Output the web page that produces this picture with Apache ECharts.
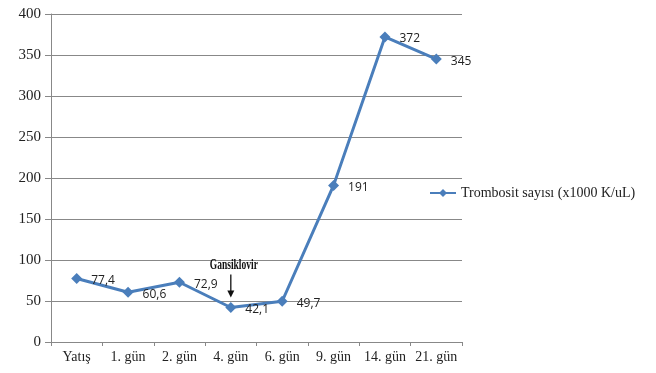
<!DOCTYPE html>
<html>
<head>
<meta charset="utf-8">
<script src="https://cdn.jsdelivr.net/npm/echarts@6/dist/echarts.min.js"></script>
<style>
  html, body { margin: 0; padding: 0; background: #fff; }
  #chart { width: 656px; height: 373px; }
</style>
</head>
<body>
<div id="chart"></div>
<script>
// Platelet count over the course of hospital stay
const categories = ['Yatış', '1. gün', '2. gün', '4. gün', '6. gün', '9. gün', '14. gün', '21. gün'];
const plateletValues = [77.4, 60.6, 72.9, 42.1, 49.7, 191, 372, 345];
const plateletLabels = ['77,4', '60,6', '72,9', '42,1', '49,7', '191', '372', '345'];
const yTicks = [0, 50, 100, 150, 200, 250, 300, 350, 400];
const seriesName = 'Trombosit sayısı (x1000 K/uL)';
const noteText = 'Gansiklovir';
const noteCategory = '4. gün';

const lineColor = '#4a7ebb';
const serif = '"Liberation Serif", "DejaVu Serif", serif';

const chart = echarts.init(document.getElementById('chart'));

chart.setOption({
  animation: false,
  backgroundColor: '#fff',
  grid: { left: 51, right: 194, top: 14, bottom: 31 },
  legend: {
    data: [seriesName],
    left: 429,
    top: 186,
    padding: 0,
    itemWidth: 26,
    itemHeight: 10,
    itemGap: 2,
    textStyle: { fontFamily: serif, fontSize: 14, color: '#222' }
  },
  xAxis: {
    type: 'category',
    data: categories,
    boundaryGap: true,
    axisLine: { lineStyle: { color: '#888', width: 1 } },
    axisTick: { show: true, length: 4, lineStyle: { color: '#888' } },
    axisLabel: { interval: 0, fontFamily: serif, fontSize: 14, color: '#222', margin: 8 }
  },
  yAxis: {
    type: 'value',
    min: yTicks[0],
    max: yTicks[yTicks.length - 1],
    interval: yTicks[1] - yTicks[0],
    axisLine: { show: true, lineStyle: { color: '#888', width: 1 } },
    axisTick: { show: true, length: 6, lineStyle: { color: '#888' } },
    axisLabel: { fontFamily: serif, fontSize: 15, color: '#222', margin: 10 },
    splitLine: { lineStyle: { color: '#888', width: 1 } }
  },
  series: [{
    name: seriesName,
    type: 'line',
    data: plateletValues,
    symbol: 'diamond',
    symbolSize: 11,
    itemStyle: { color: lineColor },
    lineStyle: { color: lineColor, width: 3 },
    label: {
      show: true,
      position: 'right',
      offset: [3, 2],
      distance: 6,
      fontFamily: '"Open Sans", "Liberation Sans", sans-serif',
      fontSize: 12,
      color: '#222',
      formatter: p => plateletLabels[p.dataIndex]
    }
  }]
});

// Treatment start annotation: bold caption with a down arrow pointing at the data point
const idx = categories.indexOf(noteCategory);
const pt = chart.convertToPixel({ seriesIndex: 0 }, [idx, plateletValues[idx]]);
const arrowTip = pt[1] - 10;
const arrowTop = arrowTip - 23;
chart.setOption({
  graphic: [
    {
      type: 'text',
      x: pt[0] + 3,
      y: arrowTop - 2,
      scaleX: 0.68,
      originX: 0,
      originY: 0,
      style: {
        text: noteText,
        fontFamily: serif,
        fontWeight: 'bold',
        fontSize: 14,
        fill: '#111',
        align: 'center',
        verticalAlign: 'bottom'
      }
    },
    {
      type: 'line',
      shape: { x1: pt[0], y1: arrowTop, x2: pt[0], y2: arrowTip - 5 },
      style: { stroke: '#111', lineWidth: 1.3 }
    },
    {
      type: 'polygon',
      shape: { points: [[pt[0] - 3.5, arrowTip - 7], [pt[0] + 3.5, arrowTip - 7], [pt[0], arrowTip]] },
      style: { fill: '#111' }
    }
  ]
});
</script>
</body>
</html>
